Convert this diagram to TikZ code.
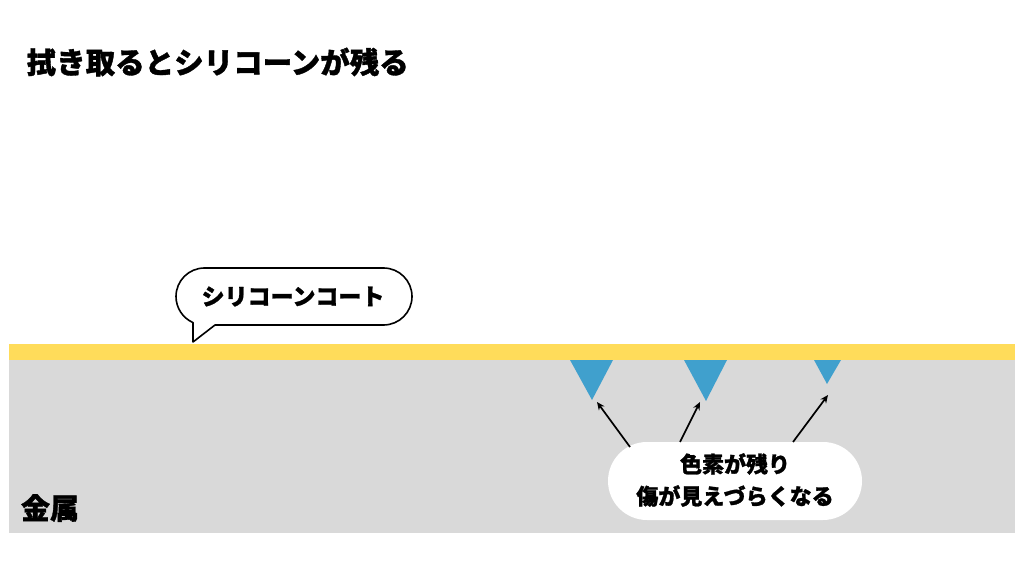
\documentclass[tikz,border=0pt]{standalone}
\usepackage{fontspec}
\newfontfamily\cjk{Noto Sans CJK JP}[BoldFeatures={FakeBold=1.2}]
\usetikzlibrary{arrows.meta}
\definecolor{coatY}{RGB}{255,220,90}
\definecolor{metalG}{RGB}{217,217,217}
\definecolor{scratchB}{RGB}{64,160,205}
\tikzset{
  txt/.style={inner sep=0pt, font=\cjk\bfseries},
  pointer/.style={-{Stealth[length=8pt,width=7pt]}, line width=1.7pt, black},
  scratch/.style={fill=scratchB, draw=none},
}
\begin{document}
\begin{tikzpicture}[x=1pt,y=1pt]
\useasboundingbox (0,0) rectangle (1024,576);
\fill[white] (0,0) rectangle (1024,576);
% title
\node[txt, anchor=west, font=\cjk\bfseries\fontsize{29.5}{32}\selectfont] (title) at (26.5,514) {拭き取るとシリコーンが残る};
% metal and coat
\fill[metalG] (9,43) rectangle (1015,216);
\fill[coatY] (9,216) rectangle (1015,232);
\node[txt, font=\cjk\bfseries\fontsize{29}{32}\selectfont] (metal) at (50,68) {金属};
% scratches
\fill[scratch] (570,216) -- (613,216) -- (592,176) -- cycle;
\fill[scratch] (684,216) -- (727,216) -- (706,175) -- cycle;
\fill[scratch] (814,216) -- (841,216) -- (827,192) -- cycle;
% callout
\draw[fill=white, line width=1.6pt, line join=round]
  (215,251) -- (383.5,251) arc[start angle=-90, end angle=90, radius=28.5]
  -- (204.5,308) arc[start angle=90, end angle=246.2, radius=28.5]
  -- (193,234) -- cycle;
\node[txt, font=\cjk\bfseries\fontsize{23}{26}\selectfont] (coat) at (293,279.5) {シリコーンコート};
% label
\node[fill=white, draw=none, rounded corners=39pt, minimum width=254pt, minimum height=78pt, inner sep=0pt] (lblbox) at (735,95) {};
\node[txt, align=center, font=\cjk\bfseries\fontsize{22}{32}\selectfont] (lbl) at (735,96) {色素が残り\\傷が見えづらくなる};
% arrows
\coordinate (t1) at (630,129);
\coordinate (h1) at (597,174);
\coordinate (t2) at (680,134);
\coordinate (h2) at (700,174);
\coordinate (t3) at (793,134);
\coordinate (h3) at (828,181);
\draw[pointer] (t1) -- (h1);
\draw[pointer] (t2) -- (h2);
\draw[pointer] (t3) -- (h3);
\end{tikzpicture}
\end{document}
